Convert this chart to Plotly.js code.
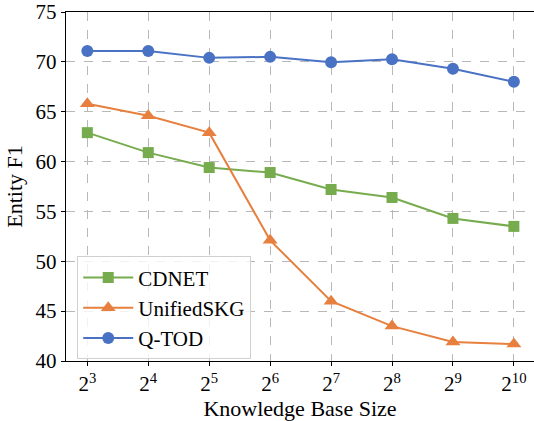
<!DOCTYPE html>
<html>
<head>
<meta charset="utf-8">
<script src="https://cdn.plot.ly/plotly-3.0.1.min.js"></script>
<style>html,body{margin:0;padding:0;background:#fff;}#chart{width:534px;height:421px;}</style>
</head>
<body>
<div id="chart"></div>
<script>
const categories = ['2<sup>3</sup>','2<sup>4</sup>','2<sup>5</sup>','2<sup>6</sup>','2<sup>7</sup>','2<sup>8</sup>','2<sup>9</sup>','2<sup>10</sup>'];
const cdnet = [62.9, 60.9, 59.4, 58.9, 57.2, 56.4, 54.3, 53.5];
const unifiedskg = [65.8, 64.6, 62.9, 52.1, 46.0, 43.5, 41.9, 41.7];
const qtod = [71.1, 71.1, 70.4, 70.5, 69.95, 70.25, 69.3, 68.0];
const yTicks = [40, 45, 50, 55, 60, 65, 70, 75];

const xIdx = categories.map((_, i) => i);
const font = 'Liberation Serif';

const traces = [
  {x: xIdx, y: cdnet, name: 'CDNET', mode: 'lines+markers',
   line: {color: '#77AC4E', width: 2}, marker: {symbol: 'square', size: 11, color: '#77AC4E'}},
  {x: xIdx, y: unifiedskg, name: 'UnifiedSKG', mode: 'lines+markers',
   line: {color: '#E7803F', width: 2}, marker: {symbol: 'triangle-up', size: 13, color: '#E7803F'}},
  {x: xIdx, y: qtod, name: 'Q-TOD', mode: 'lines+markers',
   line: {color: '#4A72C4', width: 2}, marker: {symbol: 'circle', size: 12, color: '#4A72C4'}}
];

const layout = {
  width: 534, height: 421,
  margin: {l: 66, r: 0, t: 12, b: 60},
  paper_bgcolor: '#fff', plot_bgcolor: '#fff',
  font: {family: font, color: '#000', size: 21},
  showlegend: true,
  legend: {x: 0.024, y: 0.30, xanchor: 'left', yanchor: 'top',
    bgcolor: 'rgba(255,255,255,0.8)', bordercolor: '#d0d0d0', borderwidth: 1,
    itemwidth: 50, tracegroupgap: 0,
    font: {family: font, size: 21, color: '#000'}},
  xaxis: {
    range: [-0.35, 7.33], tickmode: 'array', tickvals: xIdx, ticktext: categories,
    showgrid: true, gridcolor: '#b8b8b8', griddash: 'dash', gridwidth: 1,
    showline: true, linecolor: '#000', linewidth: 1.2, mirror: true,
    ticks: 'outside', ticklen: 4, tickcolor: '#000',
    tickfont: {family: font, size: 21}, zeroline: false,
    title: {text: 'Knowledge Base Size', font: {family: font, size: 22}, standoff: 4}
  },
  yaxis: {
    range: [40, 75], tickmode: 'array', tickvals: yTicks,
    showgrid: true, gridcolor: '#b8b8b8', griddash: 'dash', gridwidth: 1,
    showline: true, linecolor: '#000', linewidth: 1.2, mirror: true,
    ticks: 'outside', ticklen: 4, tickcolor: '#000',
    tickfont: {family: font, size: 21}, zeroline: false,
    title: {text: 'Entity F1', font: {family: font, size: 22}, standoff: 6}
  }
};

Plotly.newPlot('chart', traces, layout, {staticPlot: true, displayModeBar: false});
</script>
</body>
</html>
